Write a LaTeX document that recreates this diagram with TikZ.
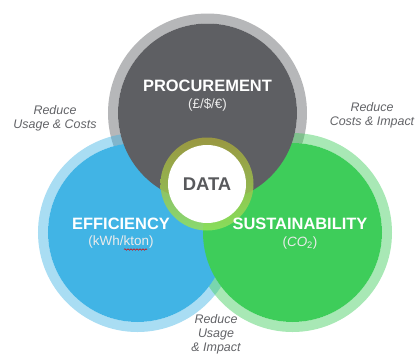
\documentclass[tikz,border=0pt]{standalone}
\usepackage{fontspec}
\setmainfont{Liberation Sans}
\usetikzlibrary{decorations.pathmorphing}
\definecolor{procgray}{RGB}{94,95,99}
\definecolor{effblue}{RGB}{65,180,229}
\definecolor{susgreen}{RGB}{62,205,90}
\definecolor{goalgray}{RGB}{98,99,103}
\definecolor{datagray}{RGB}{88,89,92}
\definecolor{dataolive}{RGB}{165,162,60}
\definecolor{datalime}{RGB}{150,225,92}
\begin{document}
\begin{tikzpicture}[x=1bp, y=-1bp, every node/.style={inner sep=0pt, align=center},
		ring/.style={circle, draw=#1, draw opacity=0.45, line width=10bp, minimum size=189bp},
		disk/.style={circle, fill=#1, minimum size=179bp},
		title/.style={font=\bfseries\fontsize{16.5}{18}\selectfont, text=white},
		unit/.style={font=\fontsize{13.5}{15}\selectfont, text=white!92!black},
		goal/.style={font=\itshape\fontsize{12.5}{14}\selectfont, text=goalgray},
		spellwave/.style={draw=red!85!black, line width=0.5bp, decorate, decoration={snake, amplitude=0.8bp, segment length=3bp}}]
		\useasboundingbox (0,0) rectangle (415,354);
		% light outer rings
		\node[ring=procgray] (procring) at (207.5,113) {};
		\node[ring=effblue] (effring) at (137.5,232.5) {};
		\node[ring=susgreen] (susring) at (292.5,232.5) {};
		% the three circles
		\node[disk=effblue] (eff) at (137.5,232.5) {};
		\node[disk=susgreen] (sus) at (292.5,232.5) {};
		\node[disk=procgray] (proc) at (207.5,113) {};
		% data in the middle
		\node[circle, minimum size=93bp, top color=dataolive, bottom color=datalime, middle color=dataolive!50!datalime, opacity=0.85] (dataring) at (207,184) {};
		\node[circle, fill=white, minimum size=78bp, font=\bfseries\fontsize{18.5}{20}\selectfont, text=datagray] (data) at (207,184) {DATA};
		\node[title] (proctitle) at (207.5,86) {PROCUREMENT};
		\node[unit] (procunit) at (207.5,105) {(£/\$/€)};
		\node[title] (efftitle) at (121,224) {EFFICIENCY};
		\node[unit] (effunit) at (121,242) {(kWh/kton)};
		\node[title] (sustitle) at (300,224) {SUSTAINABILITY};
		\node[unit] (susunit) at (300,243) {(\textit{CO}\textsubscript{2})};
		\coordinate (ktonstart) at (124,249.5);
		\coordinate (ktonend) at (147,249.5);
		\draw[spellwave] (ktonstart) -- (ktonend);
		\node[goal] (goalleft) at (55,118) {Reduce\\Usage \& Costs};
		\node[goal] (goalright) at (372,115) {Reduce\\Costs \& Impact};
		\node[goal] (goalbottom) at (216,334) {Reduce\\Usage\\\& Impact};
	\end{tikzpicture}
\end{document}
